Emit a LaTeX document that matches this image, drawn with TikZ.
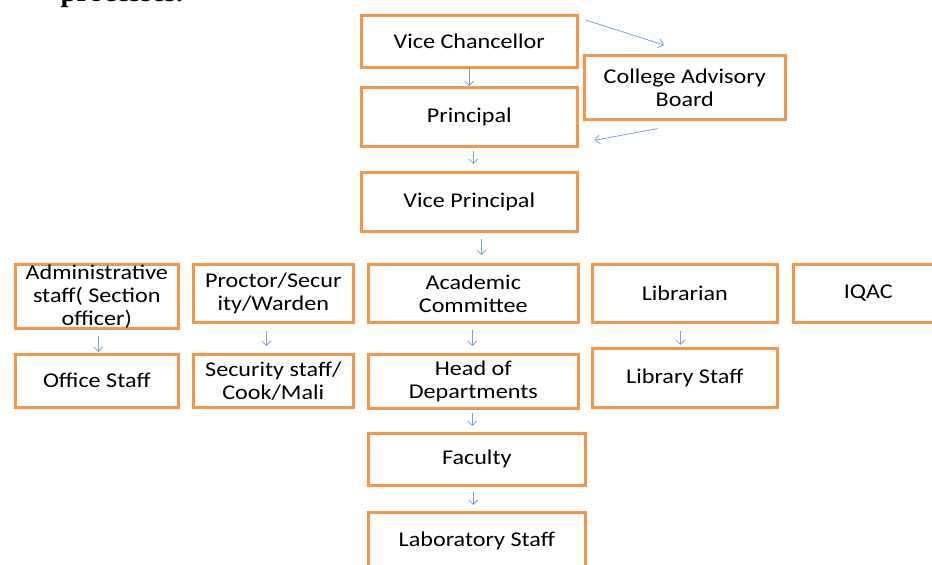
\documentclass[tikz,border=0pt]{standalone}
\usepackage{fontspec}
\setmainfont{Carlito}[FakeStretch=1.15]
\newfontfamily\serifb{Liberation Serif}
\usetikzlibrary{arrows.meta,calc}
\definecolor{boxor}{HTML}{F79646}
\definecolor{arrbl}{HTML}{7C9FD3}
\begin{document}
\begin{tikzpicture}[x=1pt,y=-1pt,
 box/.style={draw=boxor,line width=2.6pt,anchor=north west,align=center,inner sep=0pt,
   font=\fontsize{21}{23}\selectfont},
 arr/.style={draw=arrbl,line width=0.8pt,-{Straight Barb[length=4.5pt,width=9pt]}}]
\useasboundingbox (0,0) rectangle (932,565);
\node[anchor=base west,font=\serifb\bfseries\fontsize{29}{30}\selectfont] (proc0) at (57,1) {processes.};
\node[box,minimum width=216,minimum height=52] (vc) at (360,14) {Vice Chancellor};
\node[box,minimum width=201,minimum height=64] (cab) at (583,54) {College Advisory\\Board};
\node[box,minimum width=216,minimum height=59] (prin) at (360,86) {Principal};
\node[box,minimum width=216,minimum height=59] (vp) at (360,171) {Vice Principal};
\node[box,minimum width=163,minimum height=64] (admin) at (14,263) {Administrative\\staff( Section\\officer)};
\node[box,minimum width=160,minimum height=58] (proc) at (192,263) {Proctor/Secur\\ity/Warden};
\node[box,minimum width=210,minimum height=58] (acad) at (367,263) {Academic\\Committee};
\node[box,minimum width=185,minimum height=58] (lib) at (591,263) {Librarian};
\node[box,minimum width=150,minimum height=58] (iqac) at (792,263) {IQAC};
\node[box,minimum width=163,minimum height=53] (office) at (14,353) {Office Staff};
\node[box,minimum width=160,minimum height=53] (sec) at (192,353) {Security staff/\\Cook/Mali};
\node[box,minimum width=210,minimum height=54] (hod) at (367,353) {Head of\\Departments};
\node[box,minimum width=185,minimum height=59] (libst) at (591,347) {Library Staff};
\node[box,minimum width=217,minimum height=52] (fac) at (367,432) {Faculty};
\node[box,minimum width=217,minimum height=58] (lab) at (367,511) {Laboratory Staff};
\draw[arr] (vc.south) -- (prin.north);
\draw[arr,shorten <=3pt,shorten >=7pt] ([xshift=4pt]prin.south) -- ([xshift=4pt]vp.north);
\draw[arr,shorten <=6pt,shorten >=8pt] ([xshift=12pt]vp.south) -- ([xshift=8pt]acad.north);
\draw[arr,shorten <=6pt,shorten >=7pt] ([xshift=-1pt]acad.south) -- ([xshift=-1pt]hod.north);
\draw[arr,shorten <=3pt,shorten >=6pt] ([xshift=-1pt]hod.south) -- ([xshift=-4.5pt]fac.north);
\draw[arr,shorten <=5pt,shorten >=6pt] ([xshift=-3.5pt]fac.south) -- ([xshift=-3.5pt]lab.north);
\draw[arr,shorten <=6pt,shorten >=1pt] ([xshift=1.5pt]admin.south) -- ([xshift=1.5pt]office.north);
\draw[arr,shorten <=7pt,shorten >=7pt] ([xshift=-7pt]proc.south) -- ([xshift=-7pt]sec.north);
\draw[arr,shorten <=7pt,shorten >=2pt] ([xshift=-4.5pt]lib.south) -- ([xshift=-4.5pt]libst.north);
\draw[arr] ($(vc.north east)+(7,6)$) -- ($(cab.north)+(-21,-9)$);
\draw[arr] ($(cab.south)+(-27,8)$) -- ($(prin.east)+(16,23.5)$);
\end{tikzpicture}
\end{document}
